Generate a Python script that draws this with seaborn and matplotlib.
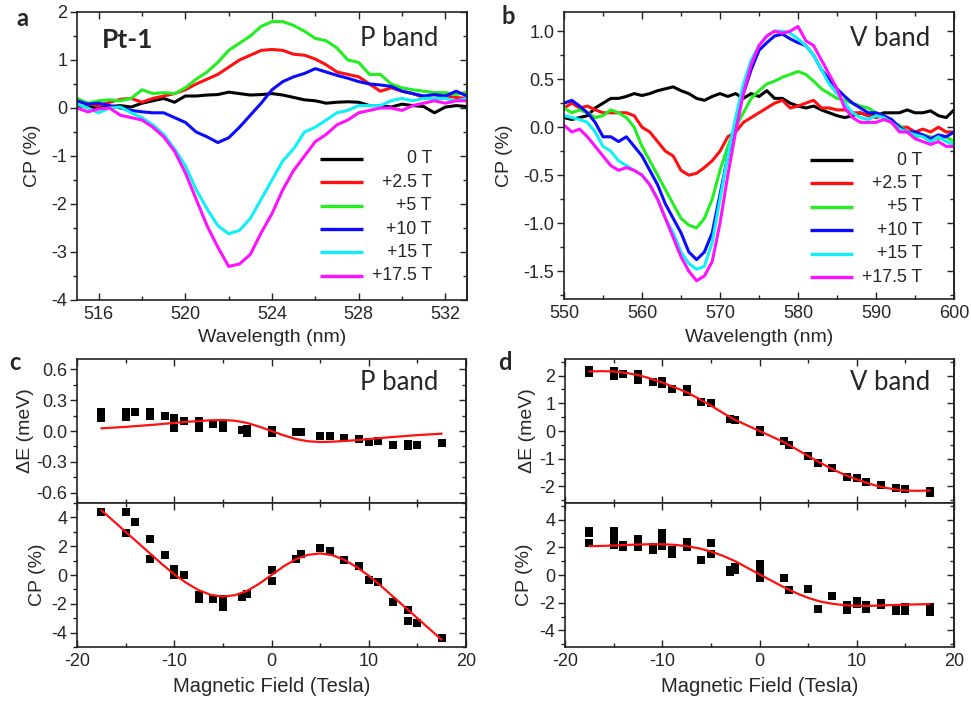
import matplotlib
matplotlib.use("Agg")
import matplotlib.pyplot as plt
import seaborn as sns
import pandas as pd
from matplotlib.ticker import MultipleLocator, FormatStrFormatter

sns.set_theme(style="ticks")
plt.rcParams['font.family'] = ['Liberation Sans', 'DejaVu Sans']
plt.rcParams['axes.unicode_minus'] = False

# ---------------- data ----------------
fields = ["0 T", "+2.5 T", "+5 T", "+10 T", "+15 T", "+17.5 T"]
colors = ["#000000", "#ff1010", "#22ee22", "#0a0aff", "#10f0f8", "#ff10ff"]

# panel a: P band spectra (0.5 nm steps)
wl_p = [515.0, 515.5, 516.0, 516.5, 517.0, 517.5, 518.0, 518.5, 519.0, 519.5,
        520.0, 520.5, 521.0, 521.5, 522.0, 522.5, 523.0, 523.5, 524.0, 524.5,
        525.0, 525.5, 526.0, 526.5, 527.0, 527.5, 528.0, 528.5, 529.0, 529.5,
        530.0, 530.5, 531.0, 531.5, 532.0, 532.5, 533.0]
p_0T = [0.05, 0.02, 0.0, 0.03, 0.05, 0.02, 0.1, 0.15, 0.2, 0.12, 0.25, 0.25, 0.27,
        0.28, 0.33, 0.3, 0.27, 0.28, 0.3, 0.27, 0.22, 0.17, 0.15, 0.1, 0.12, 0.13,
        0.12, 0.05, 0.05, 0.02, 0.08, 0.05, 0.03, -0.1, 0.02, 0.05, 0.03]
p_2T = [0.15, 0.08, 0.05, 0.12, 0.18, 0.2, 0.12, 0.2, 0.25, 0.3, 0.38, 0.5, 0.6,
        0.7, 0.85, 1.0, 1.1, 1.2, 1.22, 1.2, 1.12, 1.1, 1.02, 0.9, 0.75, 0.7, 0.65,
        0.5, 0.35, 0.42, 0.35, 0.3, 0.22, 0.2, 0.25, 0.22, 0.2]
p_5T = [0.2, 0.1, 0.15, 0.17, 0.15, 0.2, 0.38, 0.3, 0.32, 0.3, 0.42, 0.6, 0.75,
        0.95, 1.2, 1.35, 1.5, 1.7, 1.8, 1.8, 1.72, 1.6, 1.45, 1.4, 1.25, 1.0, 0.95,
        0.7, 0.7, 0.5, 0.42, 0.38, 0.35, 0.32, 0.32, 0.28, 0.33]
p_10T = [0.15, 0.08, 0.1, 0.05, 0.0, -0.05, -0.08, -0.1, -0.1, -0.2, -0.3, -0.5,
         -0.6, -0.72, -0.62, -0.4, -0.15, 0.1, 0.38, 0.55, 0.65, 0.72, 0.82, 0.75,
         0.68, 0.62, 0.55, 0.5, 0.48, 0.45, 0.35, 0.3, 0.25, 0.28, 0.25, 0.35, 0.25]
p_15T = [0.08, 0.0, -0.1, 0.0, 0.02, -0.1, -0.2, -0.35, -0.55, -0.85, -1.2, -1.7,
         -2.1, -2.45, -2.62, -2.55, -2.3, -1.9, -1.5, -1.1, -0.85, -0.5, -0.4, -0.25,
         -0.1, -0.05, 0.05, 0.05, 0.05, 0.15, 0.2, 0.15, 0.2, 0.2, 0.2, 0.15, 0.2]
p_17T = [0.0, -0.08, -0.02, 0.0, -0.15, -0.2, -0.25, -0.4, -0.6, -0.9, -1.35, -1.9,
         -2.45, -2.9, -3.3, -3.25, -3.05, -2.6, -2.2, -1.7, -1.3, -1.0, -0.7, -0.55,
         -0.35, -0.25, -0.1, -0.05, 0.0, 0.0, -0.05, 0.05, 0.1, 0.15, 0.1, 0.15, 0.15]

# panel b: V band spectra (1 nm steps)
wl_v = [550, 551, 552, 553, 554, 555, 556, 557, 558, 559, 560, 561, 562, 563, 564,
        565, 566, 567, 568, 569, 570, 571, 572, 573, 574, 575, 576, 577, 578, 579,
        580, 581, 582, 583, 584, 585, 586, 587, 588, 589, 590, 591, 592, 593, 594,
        595, 596, 597, 598, 599, 600]
v_0T = [0.1, 0.08, 0.1, 0.12, 0.2, 0.25, 0.3, 0.3, 0.32, 0.35, 0.33, 0.35, 0.38,
        0.4, 0.42, 0.38, 0.35, 0.3, 0.28, 0.32, 0.35, 0.32, 0.35, 0.3, 0.35, 0.32,
        0.38, 0.3, 0.3, 0.25, 0.22, 0.2, 0.22, 0.18, 0.15, 0.12, 0.1, 0.12, 0.15,
        0.12, 0.12, 0.15, 0.15, 0.15, 0.18, 0.15, 0.15, 0.17, 0.12, 0.1, 0.18]
v_2T = [0.2, 0.25, 0.2, 0.22, 0.18, 0.15, 0.15, 0.15, 0.15, 0.12, 0.0, -0.05,
        -0.15, -0.25, -0.3, -0.45, -0.5, -0.48, -0.42, -0.35, -0.25, -0.1, -0.05,
        0.05, 0.1, 0.15, 0.2, 0.25, 0.28, 0.2, 0.22, 0.25, 0.28, 0.2, 0.2, 0.18,
        0.18, 0.15, 0.15, 0.12, 0.1, 0.12, 0.05, 0.0, 0.0, -0.05, -0.02, -0.05, 0.0,
        -0.05, -0.05]
v_5T = [0.2, 0.15, 0.18, 0.15, 0.1, 0.12, 0.18, 0.15, 0.1, 0.0, -0.2, -0.35, -0.5,
        -0.65, -0.8, -0.95, -1.02, -1.05, -0.95, -0.75, -0.45, -0.2, 0.0, 0.15, 0.3,
        0.38, 0.45, 0.48, 0.52, 0.55, 0.58, 0.55, 0.48, 0.4, 0.35, 0.3, 0.28, 0.25,
        0.22, 0.2, 0.15, 0.12, 0.05, 0.02, -0.05, -0.1, -0.08, -0.1, -0.12, -0.1,
        -0.15]
v_10T = [0.25, 0.28, 0.22, 0.15, 0.05, -0.1, -0.1, -0.15, -0.1, -0.2, -0.3, -0.45,
         -0.6, -0.8, -0.95, -1.1, -1.3, -1.38, -1.3, -1.1, -0.7, -0.3, 0.05, 0.35,
         0.6, 0.8, 0.88, 0.95, 0.97, 0.92, 0.88, 0.85, 0.75, 0.6, 0.5, 0.4, 0.32,
         0.25, 0.2, 0.15, 0.15, 0.12, 0.08, 0.0, -0.05, -0.05, -0.08, -0.12, -0.08,
         -0.1, -0.05]
v_15T = [0.12, 0.1, 0.08, 0.05, -0.05, -0.2, -0.25, -0.35, -0.4, -0.45, -0.5, -0.6,
         -0.75, -0.95, -1.1, -1.3, -1.42, -1.48, -1.45, -1.2, -0.75, -0.3, 0.1, 0.45,
         0.7, 0.85, 0.95, 1.0, 1.0, 0.98, 0.92, 0.85, 0.75, 0.6, 0.45, 0.35, 0.25,
         0.15, 0.1, 0.08, 0.12, 0.1, 0.05, -0.02, -0.05, -0.08, -0.1, -0.15, -0.1,
         -0.15, -0.18]
v_17T = [0.02, -0.05, -0.02, -0.1, -0.2, -0.3, -0.4, -0.45, -0.42, -0.45, -0.5,
         -0.6, -0.75, -0.95, -1.15, -1.35, -1.5, -1.6, -1.55, -1.4, -1.0, -0.5,
         -0.05, 0.35, 0.65, 0.85, 0.95, 1.0, 0.98, 1.0, 1.05, 0.9, 0.85, 0.7, 0.55,
         0.4, 0.2, 0.1, 0.05, 0.05, 0.05, 0.08, 0.05, -0.05, -0.05, -0.12, -0.15,
         -0.18, -0.15, -0.2, -0.2]

# panel c: P band vs field
c_dE_B = [-17.5, -17.5, -15, -15, -14, -12.5, -12.5, -11, -10, -10, -9, -7.5, -7.5,
          -7.5, -6, -5, -5, -3, -2.5, -2.5, 0, 0, 2.5, 3, 5, 6, 7.5, 9, 10, 11,
          12.5, 14, 14, 15, 17.5]
c_dE = [0.18, 0.13, 0.18, 0.14, 0.18, 0.18, 0.15, 0.15, 0.13, 0.03, 0.1, 0.1, 0.07,
        0.03, 0.07, 0.06, 0.03, 0.01, 0.02, -0.02, 0.01, -0.02, -0.01, -0.01, -0.05,
        -0.05, -0.07, -0.08, -0.11, -0.1, -0.14, -0.13, -0.15, -0.14, -0.12]
c_cp_B = [-17.5, -15, -15, -14, -12.5, -12.5, -11, -10, -10, -9, -7.5, -7.5, -6, -5,
          -5, -3, -2.5, 0, 0, 2.5, 3, 5, 6, 7.5, 9, 10, 11, 12.5, 14, 14, 15, 17.5]
c_cp = [4.35, 4.35, 2.9, 3.7, 2.5, 1.1, 1.4, 0.4, 0.0, 0.0, -1.4, -1.7, -1.7, -1.7,
        -2.2, -1.5, -1.35, 0.35, -0.4, 1.1, 1.45, 1.85, 1.7, 1.05, 0.65, -0.35, -0.5,
        -1.85, -2.4, -3.2, -3.3, -4.4]

fit_B = [-17.5, -16.25, -15, -13.75, -12.5, -11.25, -10, -8.75, -7.5, -6.25, -5,
         -3.75, -2.5, -1.25, 0, 1.25, 2.5, 3.75, 5, 6.25, 7.5, 8.75, 10, 11.25,
         12.5, 13.75, 15, 16.25, 17.5]
c_dE_fit = [0.026, 0.033, 0.04, 0.049, 0.058, 0.068, 0.079, 0.089, 0.097, 0.104,
            0.107, 0.1, 0.078, 0.042, 0.0, -0.042, -0.078, -0.1, -0.107, -0.104,
            -0.097, -0.089, -0.079, -0.068, -0.058, -0.049, -0.04, -0.033, -0.026]
c_cp_fit = [4.5, 3.75, 3.0, 2.25, 1.5, 0.75, 0.05, -0.55, -1.05, -1.38, -1.5, -1.4,
            -1.1, -0.6, 0.0, 0.6, 1.1, 1.4, 1.5, 1.38, 1.05, 0.55, -0.05, -0.75,
            -1.5, -2.25, -3.0, -3.75, -4.5]

# panel d: V band vs field
d_dE_B = [-17.5, -17.5, -15, -15, -14, -12.5, -12.5, -11, -10, -10, -9, -7.5, -7.5,
          -6, -5, -3, -2.5, 0, 0, 2.5, 3, 5, 6, 7.5, 9, 10, 11, 12.5, 14, 15, 17.5,
          17.5]
d_dE = [2.2, 2.1, 2.15, 2.0, 2.05, 2.05, 1.85, 1.78, 1.8, 1.7, 1.5, 1.5, 1.4, 1.05,
        1.0, 0.42, 0.4, 0.05, -0.02, -0.35, -0.5, -0.9, -1.15, -1.35, -1.65, -1.7,
        -1.85, -1.95, -2.05, -2.1, -2.15, -2.25]
d_cp_B = [-17.5, -17.5, -17.5, -15, -15, -15, -15, -14, -14, -12.5, -12.5, -12.5,
          -11, -11, -10, -10, -10, -9, -9, -7.5, -7.5, -6, -5, -5, -3, -3, -2.5,
          -2.5, 0, 0, 0, 0, 2.5, 3, 5, 6, 7.5, 9, 9, 10, 10, 11, 11, 12.5, 12.5, 14,
          14, 15, 15, 17.5, 17.5, 17.5]
d_cp = [3.2, 3.0, 2.3, 3.2, 3.0, 2.6, 2.2, 2.2, 2.0, 2.6, 2.3, 2.0, 2.0, 1.8, 3.0,
        2.7, 2.1, 1.8, 1.5, 2.4, 2.0, 1.1, 2.3, 1.5, 0.35, 0.2, 0.55, 0.35, 0.8, 0.4,
        0.0, -0.2, -0.2, -1.1, -1.0, -2.45, -1.55, -2.2, -2.5, -1.9, -2.1, -2.2,
        -2.45, -2.0, -2.2, -2.4, -2.6, -2.3, -2.6, -2.3, -2.5, -2.7]
d_dE_fit = [2.15, 2.16, 2.15, 2.1, 2.02, 1.9, 1.75, 1.58, 1.4, 1.17, 0.92, 0.65,
            0.4, 0.2, 0.0, -0.2, -0.4, -0.65, -0.9, -1.15, -1.38, -1.58, -1.75,
            -1.9, -2.02, -2.1, -2.15, -2.16, -2.15]
d_cp_fit = [2.08, 2.1, 2.13, 2.17, 2.2, 2.22, 2.22, 2.18, 2.08, 1.93, 1.7, 1.38,
            1.0, 0.52, 0.05, -0.42, -0.88, -1.3, -1.65, -1.92, -2.08, -2.18, -2.22,
            -2.23, -2.2, -2.17, -2.14, -2.12, -2.1]

# ---------------- figure ----------------
W, H = 971, 702
fig = plt.figure(figsize=(W / 100, H / 100), dpi=100)
TICK_FS = 13
LABEL_FS = 14


def px_axes(x0, y0, x1, y1):
    return fig.add_axes([x0 / W, 1 - y1 / H, (x1 - x0) / W, (y1 - y0) / H])


def style(ax, xmaj, xmin, ymaj, ymin, fmt=None, xlabels=True):
    ax.xaxis.set_major_locator(MultipleLocator(xmaj))
    ax.xaxis.set_minor_locator(MultipleLocator(xmin))
    ax.yaxis.set_major_locator(MultipleLocator(ymaj))
    ax.yaxis.set_minor_locator(MultipleLocator(ymin))
    if fmt:
        ax.yaxis.set_major_formatter(FormatStrFormatter(fmt))
    ax.tick_params(axis='x', which='both', direction='in', top=True, bottom=True,
                   labelbottom=xlabels, labelsize=TICK_FS, color='#222222', pad=4)
    ax.tick_params(axis='x', which='major', length=5, width=1)
    ax.tick_params(axis='x', which='minor', length=3, width=1)
    ax.tick_params(axis='y', which='both', direction='out', left=True, right=False,
                   labelsize=TICK_FS, color='#222222', pad=2)
    ax.tick_params(axis='y', which='major', length=5, width=1)
    ax.tick_params(axis='y', which='minor', length=3, width=1)
    for s in ax.spines.values():
        s.set_color('#222222')
        s.set_linewidth(1.2)
    # right-side ticks point inward
    sec = ax.secondary_yaxis('right')
    sec.yaxis.set_major_locator(MultipleLocator(ymaj))
    sec.yaxis.set_minor_locator(MultipleLocator(ymin))
    sec.tick_params(axis='y', which='both', direction='in', labelright=False,
                    color='#222222', width=1)
    sec.tick_params(axis='y', which='major', length=5)
    sec.tick_params(axis='y', which='minor', length=3)
    sec.spines['right'].set_linewidth(1.2)
    sec.spines['right'].set_color('#222222')
    ax.grid(False)


def right_legend(ax, x0, x1, xtext, ytop, step):
    # legend with handles on the left and right-aligned labels
    for i, (col, lab) in enumerate(zip(colors, fields)):
        y = ytop - i * step
        ax.plot([x0, x1], [y, y], color=col, lw=2.4, transform=ax.transAxes,
                clip_on=False, solid_capstyle='butt')
        ax.text(xtext, y, lab, ha='right', va='center', fontsize=12.8,
                transform=ax.transAxes)


ax_a = px_axes(77, 12, 467, 300)
ax_b = px_axes(564, 12, 954, 299)
ax_c1 = px_axes(77, 359, 466, 503)
ax_c2 = px_axes(77, 503, 466, 647)
ax_d1 = px_axes(565, 359, 954, 503)
ax_d2 = px_axes(565, 503, 954, 647)

# panel a
for ys, col in zip([p_0T, p_2T, p_5T, p_10T, p_15T, p_17T], colors):
    sns.lineplot(x=wl_p, y=ys, color=col, linewidth=2.2, ax=ax_a, legend=False)
ax_a.set_xlim(515, 533)
ax_a.set_ylim(-4, 2)
style(ax_a, 4, 2, 1, 0.5)
ax_a.set_xlabel("Wavelength (nm)", fontsize=LABEL_FS, labelpad=5)
ax_a.set_ylabel("CP (%)", fontsize=LABEL_FS)
ax_a.yaxis.set_label_coords(-0.092, 0.5)
right_legend(ax_a, 0.623, 0.733, 0.910, 0.490, 0.0812)

# panel b
for ys, col in zip([v_0T, v_2T, v_5T, v_10T, v_15T, v_17T], colors):
    sns.lineplot(x=wl_v, y=ys, color=col, linewidth=2.2, ax=ax_b, legend=False)
ax_b.set_xlim(550, 600)
ax_b.set_ylim(-1.79, 1.2)
style(ax_b, 10, 5, 0.5, 0.25, '%.1f')
ax_b.set_xlabel("Wavelength (nm)", fontsize=LABEL_FS, labelpad=5)
ax_b.set_ylabel("CP (%)", fontsize=LABEL_FS)
ax_b.yaxis.set_label_coords(-0.131, 0.5)
right_legend(ax_b, 0.631, 0.741, 0.918, 0.484, 0.0815)

# panel c
sns.scatterplot(x=c_dE_B, y=c_dE, marker='s', s=38, color='black', linewidth=0,
                ax=ax_c1)
sns.lineplot(x=fit_B, y=c_dE_fit, color='#ff1010', linewidth=1.6, ax=ax_c1)
ax_c1.set_xlim(-20, 20)
ax_c1.set_ylim(-0.7, 0.7)
style(ax_c1, 10, 5, 0.3, 0.15, '%.1f', xlabels=False)
ax_c1.set_ylabel("ΔE (meV)", fontsize=LABEL_FS)
ax_c1.yaxis.set_label_coords(-0.11, 0.5)

sns.scatterplot(x=c_cp_B, y=c_cp, marker='s', s=38, color='black', linewidth=0,
                ax=ax_c2)
sns.lineplot(x=fit_B, y=c_cp_fit, color='#ff1010', linewidth=1.6, ax=ax_c2)
ax_c2.set_xlim(-20, 20)
ax_c2.set_ylim(-5, 5)
style(ax_c2, 10, 5, 2, 1)
ax_c2.set_xlabel("Magnetic Field (Tesla)", fontsize=LABEL_FS + 0.5, labelpad=5)
ax_c2.set_ylabel("CP (%)", fontsize=LABEL_FS)
ax_c2.yaxis.set_label_coords(-0.08, 0.5)

# panel d
sns.scatterplot(x=d_dE_B, y=d_dE, marker='s', s=38, color='black', linewidth=0,
                ax=ax_d1)
sns.lineplot(x=fit_B, y=d_dE_fit, color='#ff1010', linewidth=1.6, ax=ax_d1)
ax_d1.set_xlim(-20, 20)
ax_d1.set_ylim(-2.6, 2.6)
style(ax_d1, 10, 5, 1, 0.5, xlabels=False)
ax_d1.set_ylabel("ΔE (meV)", fontsize=LABEL_FS)
ax_d1.yaxis.set_label_coords(-0.075, 0.5)

sns.scatterplot(x=d_cp_B, y=d_cp, marker='s', s=38, color='black', linewidth=0,
                ax=ax_d2)
sns.lineplot(x=fit_B, y=d_cp_fit, color='#ff1010', linewidth=1.6, ax=ax_d2)
ax_d2.set_xlim(-20, 20)
ax_d2.set_ylim(-5.2, 5.2)
style(ax_d2, 10, 5, 2, 1)
ax_d2.set_xlabel("Magnetic Field (Tesla)", fontsize=LABEL_FS + 0.5, labelpad=5)
ax_d2.set_ylabel("CP (%)", fontsize=LABEL_FS)
ax_d2.yaxis.set_label_coords(-0.082, 0.5)


# annotations
def ftext(x, y, s, **kw):
    fig.text(x / W, 1 - y / H, s, ha='center', va='center', **kw)


ftext(22, 19, "a", fontsize=17, fontweight='bold', family='Lato')
ftext(508, 17, "b", fontsize=17, fontweight='bold', family='Lato')
ftext(15, 362, "c", fontsize=17, fontweight='bold', family='Lato')
ftext(505, 362, "d", fontsize=17, fontweight='bold', family='Lato')
ftext(128, 40, "Pt-1", fontsize=19, fontweight='bold', family='Lato')
ftext(399, 39, "P band", fontsize=18.5, family='Lato')
ftext(890, 39, "V band", fontsize=18.5, family='Lato')
ftext(399, 382, "P band", fontsize=18.5, family='Lato')
ftext(890, 382, "V band", fontsize=18.5, family='Lato')

fig.savefig("out.png", dpi=100)
